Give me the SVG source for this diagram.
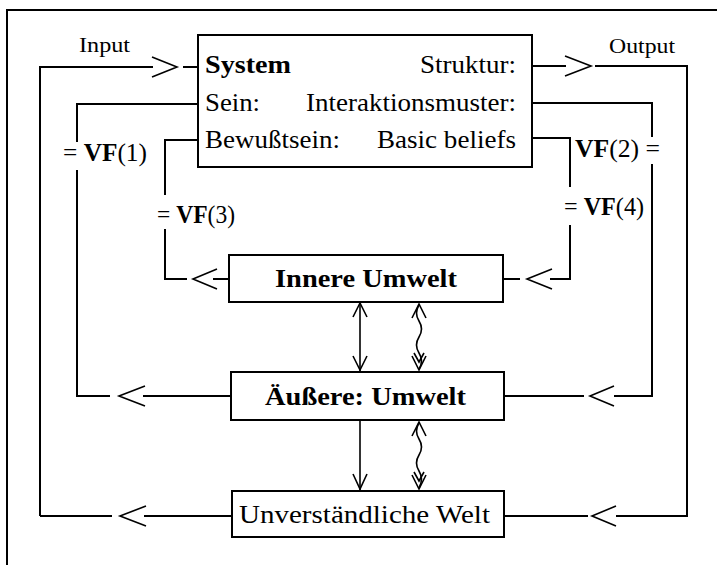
<svg xmlns="http://www.w3.org/2000/svg" width="717" height="565" viewBox="0 0 717 565">
<style>
text{font-family:"Liberation Serif","Times New Roman",serif;fill:#000;font-size:25px}
.b{font-weight:bold}
.sm{font-size:21px}
.box{fill:#fff;stroke:#000;stroke-width:2}
.ln{fill:none;stroke:#000;stroke-width:2}
.hd{fill:none;stroke:#000;stroke-width:1.6}
</style>
<rect width="717" height="565" fill="#fff"/>
<path class="ln" d="M7,565 V10 H717"/>
<g id="connectors">
<path class="ln" d="M40,516 V67 H153"/>
<path class="hd" d="M152,57 L177,67 L152,77"/>
<path class="ln" d="M183,67 H198"/>
<path class="ln" d="M532,66 H566"/>
<path class="hd" d="M565,56 L591,66 L565,76"/>
<path class="ln" d="M595,66 H687 V516 H616"/>
<path class="hd" d="M616,506 L592,516 L616,526"/>
<path class="ln" d="M588,516 H504"/>
<path class="ln" d="M198,104 H77 V142 M77,170 V396 H110"/>
<path class="hd" d="M145,386 L119,396 L145,406"/>
<path class="ln" d="M143,396 H231"/>
<path class="ln" d="M198,140 H165 V195 M165,229 V279 H187"/>
<path class="hd" d="M217,269 L193,279 L217,289"/>
<path class="ln" d="M213,279 H229"/>
<path class="ln" d="M232,516 H144"/>
<path class="hd" d="M146,506 L120,516 L146,526"/>
<path class="ln" d="M112,516 H40"/>
<path class="ln" d="M532,103 H652 V137 M652,164 V396 H614"/>
<path class="hd" d="M614,386 L590,396 L614,406"/>
<path class="ln" d="M584,396 H504"/>
<path class="ln" d="M532,138 H570 V187 M570,225 V279 H550"/>
<path class="hd" d="M552,269 L527,279 L552,289"/>
<path class="ln" d="M520,279 H503"/>
<path class="ln" d="M360,302 V372" style="stroke-width:1.6"/>
<path class="hd" d="M353,317 L360,303 L367,317 M353,356 L360,370 L367,356"/>
<path class="ln" d="M360,420 V490" style="stroke-width:1.6"/>
<path class="hd" d="M353,474 L360,489 L367,474"/>
<path class="hd" d="M419,305 Q414,313 419,321 T419,337 T419,353 T419,369"/>
<path class="hd" d="M412,318 L419,304 L426,318 M412,356 L419,370 L426,356 M414,353 L419,362 L424,353"/>
<path class="hd" d="M419,423 Q414,431 419,439 T419,455 T419,471 T419,488"/>
<path class="hd" d="M412,436 L419,422 L426,436 M412,475 L419,489 L426,475 M414,472 L419,481 L424,472"/>
</g>
<text class="sm" x="79" y="52" textLength="51" lengthAdjust="spacingAndGlyphs">Input</text>
<text class="sm" x="609" y="53" textLength="66" lengthAdjust="spacingAndGlyphs">Output</text>
<text x="63" y="161" textLength="84" lengthAdjust="spacingAndGlyphs">= <tspan class="b">VF</tspan>(1)</text>
<text x="575" y="157" textLength="85" lengthAdjust="spacingAndGlyphs"><tspan class="b">VF</tspan>(2) =</text>
<text x="157" y="223" textLength="78" lengthAdjust="spacingAndGlyphs">= <tspan class="b">VF</tspan>(3)</text>
<text x="564" y="215" textLength="80" lengthAdjust="spacingAndGlyphs">= <tspan class="b">VF</tspan>(4)</text>
<g id="system">
<rect class="box" x="198" y="35" width="334" height="132"/>
<text class="b" x="205" y="73" textLength="86" lengthAdjust="spacingAndGlyphs">System</text>
<text x="420" y="73" textLength="96" lengthAdjust="spacingAndGlyphs">Struktur:</text>
<text x="205" y="111" textLength="55" lengthAdjust="spacingAndGlyphs">Sein:</text>
<text x="306" y="111" textLength="210" lengthAdjust="spacingAndGlyphs">Interaktionsmuster:</text>
<text x="205" y="148" textLength="135" lengthAdjust="spacingAndGlyphs">Bewußtsein:</text>
<text x="377" y="148" textLength="139" lengthAdjust="spacingAndGlyphs">Basic beliefs</text>
</g>
<g id="innere">
<rect class="box" x="229" y="255" width="274" height="47"/>
<text class="b" x="275" y="287" textLength="182" lengthAdjust="spacingAndGlyphs">Innere Umwelt</text>
</g>
<g id="aeussere">
<rect class="box" x="231" y="372" width="273" height="48"/>
<text class="b" x="265" y="405" textLength="201" lengthAdjust="spacingAndGlyphs">Äußere: Umwelt</text>
</g>
<g id="unverstaendliche">
<rect class="box" x="232" y="491" width="272" height="46"/>
<text x="239" y="523" textLength="251" lengthAdjust="spacingAndGlyphs">Unverständliche Welt</text>
</g>
</svg>
